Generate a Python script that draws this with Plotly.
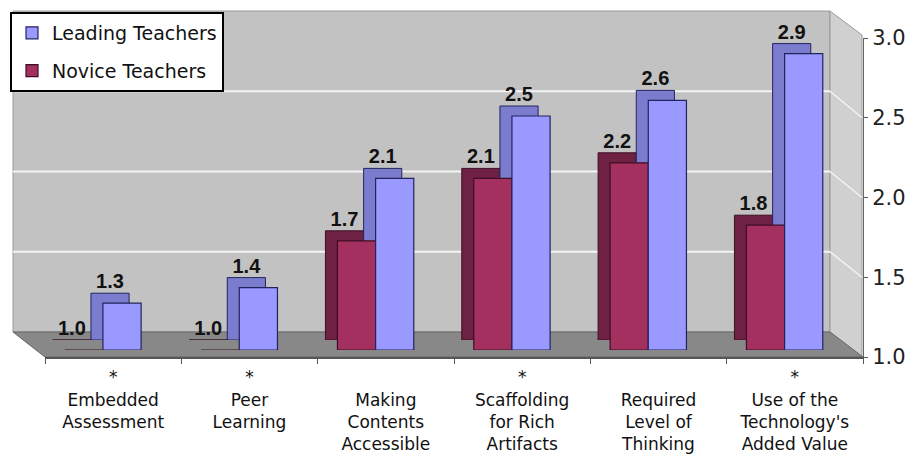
import plotly.graph_objects as go

# ---------------- data ----------------
categories = ["*<br>Embedded<br>Assessment", "*<br>Peer<br>Learning",
              " <br>Making<br>Contents<br>Accessible", "*<br>Scaffolding<br>for Rich<br>Artifacts",
              " <br>Required<br>Level of<br>Thinking", "*<br>Use of the<br>Technology's<br>Added Value"]
novice = [1.0, 1.0, 1.7, 2.1, 2.2, 1.8]
leading = [1.3, 1.4, 2.1, 2.5, 2.6, 2.9]
y_ticks = [1.0, 1.5, 2.0, 2.5, 3.0]

# ---------------- geometry helpers ----------------
W, H = 909, 455
def fx(p):
    return p / W
def fy(p):
    return 1 - p / H

FRONT_X = (45, 863)        # front floor edge / category axis extent
AXIS_Y = (357, 38)         # pixel y of value 1 and value 3 on visible axis
BAR_Y = (350, 38)          # pixel y of value 1 and value 3 for bar front faces
BAR_DX, BAR_DY = -12, -10  # bar depth offset
WALL_X = (13, 830)
WALL_Y = (332, 11)

def wall_y(v):
    return WALL_Y[0] + (v - 1) / 2 * (WALL_Y[1] - WALL_Y[0])
def axis_y(v):
    return AXIS_Y[0] + (v - 1) / 2 * (AXIS_Y[1] - AXIS_Y[0])

idx = list(range(len(categories)))
BW = 0.28
NOV_OFF = -0.355
LEAD_OFF = NOV_OFF + BW

LEAD_FRONT, LEAD_SIDE, LEAD_EDGE = "#9999ff", "#7c7ccf", "#23235e"
NOV_FRONT, NOV_SIDE, NOV_EDGE = "#a3305f", "#6e2142", "#3e0e24"

fig = go.Figure()

# back faces (depth) on subplot xy
fig.add_trace(go.Bar(x=idx, y=[v - 1 for v in novice], base=1, offset=NOV_OFF, width=BW,
                     marker=dict(color=NOV_SIDE, line=dict(color=NOV_EDGE, width=1)),
                     showlegend=False, hoverinfo="skip", xaxis="x", yaxis="y"))
fig.add_trace(go.Bar(x=idx, y=[v - 1 for v in leading], base=1, offset=LEAD_OFF, width=BW,
                     marker=dict(color=LEAD_SIDE, line=dict(color=LEAD_EDGE, width=1)),
                     showlegend=False, hoverinfo="skip", xaxis="x", yaxis="y"))
# value labels
lab_font = dict(family="Liberation Sans, Arial", size=20, color="#111")
fig.add_trace(go.Scatter(x=[i + NOV_OFF + BW / 2 for i in idx], y=novice, mode="text",
                         text=[f"<b>{v:.1f}</b>" for v in novice], textposition="top center",
                         textfont=lab_font, showlegend=False, hoverinfo="skip",
                         cliponaxis=False, xaxis="x", yaxis="y"))
fig.add_trace(go.Scatter(x=[i + LEAD_OFF + BW / 2 for i in idx], y=leading, mode="text",
                         text=[f"<b>{v:.1f}</b>" for v in leading], textposition="top center",
                         textfont=lab_font, showlegend=False, hoverinfo="skip",
                         cliponaxis=False, xaxis="x", yaxis="y"))

# front faces on subplot x2y2
fig.add_trace(go.Bar(x=idx, y=[v - 1 for v in novice], base=1, offset=NOV_OFF, width=BW,
                     name="Novice Teachers", legendrank=2, legendgroup="nov",
                     marker=dict(color=NOV_FRONT, line=dict(color=NOV_EDGE, width=1.2)),
                     xaxis="x2", yaxis="y2"))
fig.add_trace(go.Bar(x=idx, y=[v - 1 for v in leading], base=1, offset=LEAD_OFF, width=BW,
                     name="Leading Teachers", legendrank=1, legendgroup="lead",
                     marker=dict(color=LEAD_FRONT, line=dict(color=LEAD_EDGE, width=1.2)),
                     xaxis="x2", yaxis="y2"))

# visible axes subplot x3y3 (empty carrier trace)
fig.add_trace(go.Scatter(x=[None], y=[None], mode="markers", showlegend=False,
                         hoverinfo="skip", xaxis="x3", yaxis="y3"))

# ---------------- walls / floor decorations ----------------
shapes = []
wx0, wx1 = WALL_X
fx0, fx1 = FRONT_X
shapes.append(dict(type="rect", xref="paper", yref="paper", layer="below",
                   x0=fx(wx0), x1=fx(wx1), y0=fy(WALL_Y[0]), y1=fy(WALL_Y[1]),
                   fillcolor="#c2c2c2", line=dict(color="#9a9a9a", width=1)))
side_path = (f"M{fx(wx1)},{fy(WALL_Y[1])} L{fx(fx1 - 1)},{fy(AXIS_Y[1] - 3)} "
             f"L{fx(fx1 - 1)},{fy(AXIS_Y[0])} L{fx(wx1)},{fy(WALL_Y[0])} Z")
shapes.append(dict(type="path", xref="paper", yref="paper", layer="below", path=side_path,
                   fillcolor="#d0d0d0", line=dict(color="#9a9a9a", width=1)))
floor_path = (f"M{fx(wx0)},{fy(WALL_Y[0])} L{fx(wx1)},{fy(WALL_Y[0])} "
              f"L{fx(fx1)},{fy(AXIS_Y[0])} L{fx(fx0)},{fy(AXIS_Y[0])} Z")
shapes.append(dict(type="path", xref="paper", yref="paper", layer="below", path=floor_path,
                   fillcolor="#888888", line=dict(color="#666666", width=1)))
for v in y_ticks[1:-1]:
    shapes.append(dict(type="line", xref="paper", yref="paper", layer="below",
                       x0=fx(wx0), x1=fx(wx1), y0=fy(wall_y(v)), y1=fy(wall_y(v)),
                       line=dict(color="#f4f4f4", width=2)))
    shapes.append(dict(type="line", xref="paper", yref="paper", layer="below",
                       x0=fx(wx1), x1=fx(fx1 - 1), y0=fy(wall_y(v)), y1=fy(axis_y(v)),
                       line=dict(color="#f4f4f4", width=1.5)))

axis_font = dict(family="DejaVu Sans, Verdana", size=17, color="#111")
hidden = dict(visible=False, fixedrange=True, showgrid=False, zeroline=False)

fig.update_layout(
    width=W, height=H,
    margin=dict(l=0, r=0, t=0, b=0, autoexpand=False),
    paper_bgcolor="white",
    plot_bgcolor="rgba(0,0,0,0)",
    barmode="overlay",
    shapes=shapes,
    font=dict(family="Liberation Sans, Arial", color="#111"),
    xaxis=dict(domain=[fx(fx0 + BAR_DX), fx(fx1 + BAR_DX)], range=[-0.5, 5.5], anchor="y", **hidden),
    yaxis=dict(domain=[fy(BAR_Y[0] + BAR_DY), fy(BAR_Y[1] + BAR_DY)], range=[1, 3], anchor="x", **hidden),
    xaxis2=dict(domain=[fx(fx0), fx(fx1)], range=[-0.5, 5.5], anchor="y2", **hidden),
    yaxis2=dict(domain=[fy(BAR_Y[0]), fy(BAR_Y[1])], range=[1, 3], anchor="x2", **hidden),
    xaxis3=dict(domain=[fx(fx0), fx(fx1)], range=[-0.5, 5.5], anchor="y3",
                tickvals=idx, ticktext=categories, ticks="",
                showline=True, linecolor="#555", linewidth=2, showgrid=False, zeroline=False,
                minor=dict(tick0=-0.5, dtick=1, ticks="outside", ticklen=5,
                           tickcolor="#555", showgrid=False),
                tickfont=axis_font, ticklabelstandoff=4, fixedrange=True),
    yaxis3=dict(domain=[fy(AXIS_Y[0]), fy(AXIS_Y[1])], range=[1, 3], anchor="x3",
                side="right", tickvals=y_ticks, tickformat=".1f",
                showgrid=False, zeroline=False, showline=True, linecolor="#666",
                ticks="outside", ticklen=4, tickcolor="#555", fixedrange=True,
                tickfont=dict(family="DejaVu Sans, Verdana", size=21, color="#222")),
    legend=dict(x=fx(10), y=fy(12), xanchor="left", yanchor="top",
                bgcolor="white", bordercolor="black", borderwidth=2,
                font=dict(family="DejaVu Sans, Verdana", size=19, color="#111"),
                traceorder="grouped", tracegroupgap=10),
)

fig.write_html("out.html")
